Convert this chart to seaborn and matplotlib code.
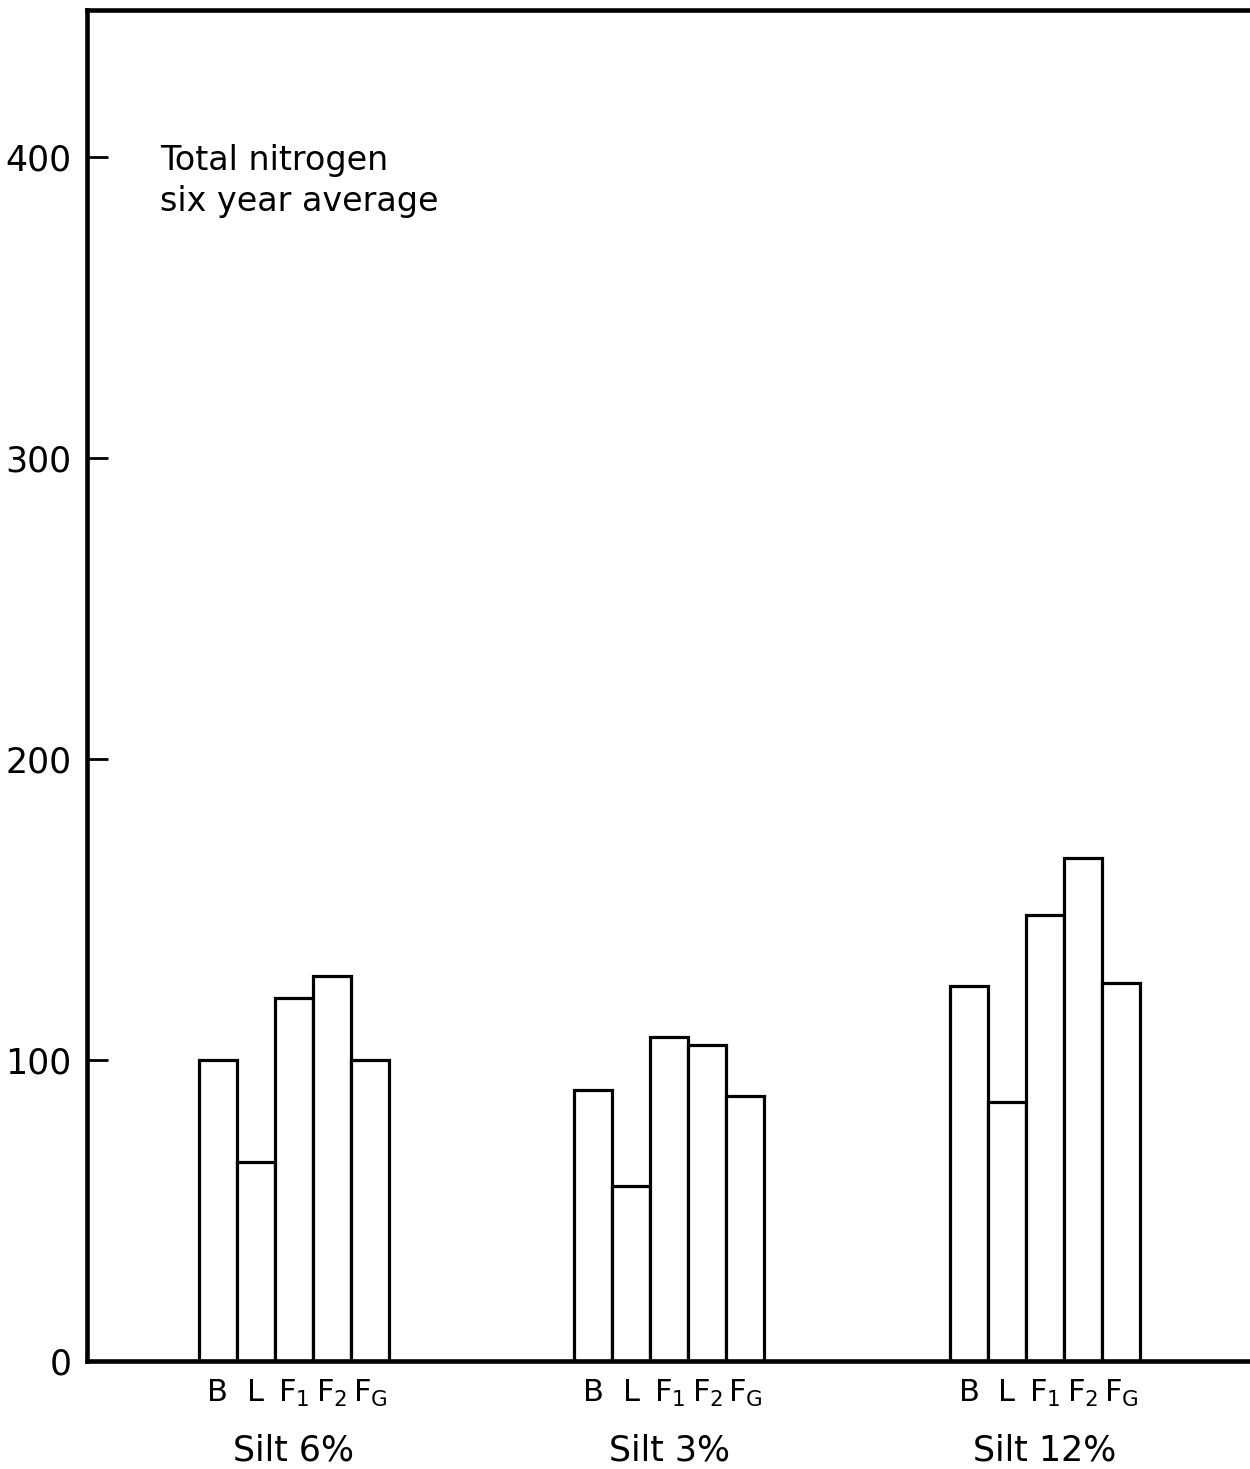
import matplotlib
matplotlib.use("Agg")
import matplotlib.pyplot as plt
import seaborn as sns
import pandas as pd

# ---- data ----
groups = ["Silt 6%", "Silt 3%", "Silt 12%"]
treatments = ["B", "L", "F1", "F2", "FG"]
treatment_labels = ["B", "L", r"F$_1$", r"F$_2$", r"F$_\mathrm{G}$"]
silt6 = [100, 66, 120.5, 128, 100]
silt3 = [90, 58, 107.5, 105, 88]
silt12 = [124.5, 86, 148, 167, 125.5]
yticks = [0, 100, 200, 300, 400]
title_text = "Total nitrogen\nsix year average"

rows = []
for g, vals in zip(groups, [silt6, silt3, silt12]):
    for t, v in zip(treatments, vals):
        rows.append({"group": g, "treat": t, "N": v})
df = pd.DataFrame(rows)

sns.set_theme(style="white")
plt.rcParams["font.family"] = ["DejaVu Sans"]
plt.rcParams["mathtext.fontset"] = "dejavusans"
plt.rcParams["text.color"] = "black"

fig = plt.figure(figsize=(12.5, 14.69), dpi=100)
ax = fig.add_axes([0.0696, 0.0735, 0.9304, 0.9197])

sns.barplot(data=df, x="group", y="N", hue="treat", order=groups,
            hue_order=treatments, palette=["white"] * 5, width=0.506,
            edgecolor="black", linewidth=2.3, legend=False, ax=ax,
            saturation=1, errorbar=None)

ax.set_xlim(-0.551, 2.546)
ax.set_ylim(0, 448.8)
ax.set_yticks(yticks)
ax.set_yticklabels([str(v) for v in yticks], fontsize=25)
ax.tick_params(axis="y", left=True, direction="in", length=15, width=2,
               pad=11, colors="black")
ax.tick_params(axis="x", bottom=False, length=0, pad=52, labelsize=25,
               colors="black")
ax.set_xlabel("")
ax.set_ylabel("")

for side in ["left", "bottom", "top"]:
    ax.spines[side].set_linewidth(3.3)
    ax.spines[side].set_color("black")
ax.spines["right"].set_visible(False)

# per-bar labels
for lab, cont in zip(treatment_labels, ax.containers):
    for p in cont.patches:
        cx = p.get_x() + p.get_width() / 2
        ax.annotate(lab, xy=(cx, 0), xycoords=("data", "axes fraction"),
                    xytext=(0, -23), textcoords="offset points",
                    ha="center", va="center", fontsize=22, color="black")

ax.text(0.063, 0.9005, title_text, transform=ax.transAxes, fontsize=24,
        ha="left", va="top", linespacing=1.3, color="black")

fig.savefig("out.png", dpi=100)
